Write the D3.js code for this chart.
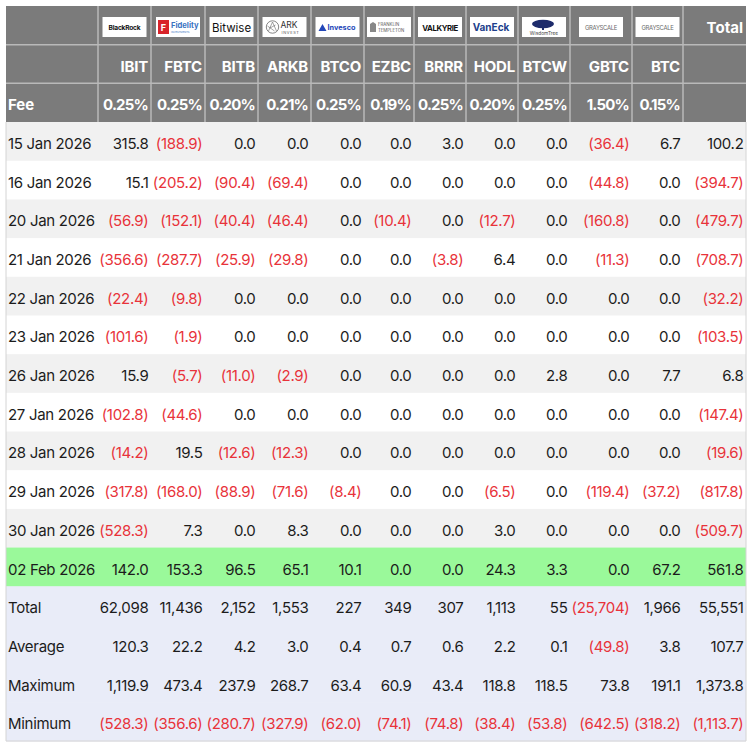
<!DOCTYPE html>
<html>
<head>
<meta charset="utf-8">
<script src="https://cdn.jsdelivr.net/npm/d3@7"></script>
<style>
  body { margin: 0; background: #fff; }
  svg text { font-family: Inter, "Noto Sans", sans-serif; }
</style>
</head>
<body>
<div id="flows"></div>
<script>
// ---- data ----
const tickers = ['IBIT', 'FBTC', 'BITB', 'ARKB', 'BTCO', 'EZBC', 'BRRR', 'HODL', 'BTCW', 'GBTC', 'BTC'];
const issuers = ['blackrock', 'fidelity', 'bitwise', 'ark', 'invesco', 'franklin', 'valkyrie', 'vaneck', 'wisdomtree', 'grayscale', 'grayscale'];
const fees = [0.25, 0.25, 0.20, 0.21, 0.25, 0.19, 0.25, 0.20, 0.25, 1.50, 0.15];

const dates = ['15 Jan 2026', '16 Jan 2026', '20 Jan 2026', '21 Jan 2026', '22 Jan 2026', '23 Jan 2026',
               '26 Jan 2026', '27 Jan 2026', '28 Jan 2026', '29 Jan 2026', '30 Jan 2026', '02 Feb 2026'];

// daily flows (US$m), last value of each row is the total
const flows = [
  [315.8, -188.9, 0.0, 0.0, 0.0, 0.0, 3.0, 0.0, 0.0, -36.4, 6.7, 100.2],
  [15.1, -205.2, -90.4, -69.4, 0.0, 0.0, 0.0, 0.0, 0.0, -44.8, 0.0, -394.7],
  [-56.9, -152.1, -40.4, -46.4, 0.0, -10.4, 0.0, -12.7, 0.0, -160.8, 0.0, -479.7],
  [-356.6, -287.7, -25.9, -29.8, 0.0, 0.0, -3.8, 6.4, 0.0, -11.3, 0.0, -708.7],
  [-22.4, -9.8, 0.0, 0.0, 0.0, 0.0, 0.0, 0.0, 0.0, 0.0, 0.0, -32.2],
  [-101.6, -1.9, 0.0, 0.0, 0.0, 0.0, 0.0, 0.0, 0.0, 0.0, 0.0, -103.5],
  [15.9, -5.7, -11.0, -2.9, 0.0, 0.0, 0.0, 0.0, 2.8, 0.0, 7.7, 6.8],
  [-102.8, -44.6, 0.0, 0.0, 0.0, 0.0, 0.0, 0.0, 0.0, 0.0, 0.0, -147.4],
  [-14.2, 19.5, -12.6, -12.3, 0.0, 0.0, 0.0, 0.0, 0.0, 0.0, 0.0, -19.6],
  [-317.8, -168.0, -88.9, -71.6, -8.4, 0.0, 0.0, -6.5, 0.0, -119.4, -37.2, -817.8],
  [-528.3, 7.3, 0.0, 8.3, 0.0, 0.0, 0.0, 3.0, 0.0, 0.0, 0.0, -509.7],
  [142.0, 153.3, 96.5, 65.1, 10.1, 0.0, 0.0, 24.3, 3.3, 0.0, 67.2, 561.8]
];

const statLabels = ['Total', 'Average', 'Maximum', 'Minimum'];
const statTotal = [62098, 11436, 2152, 1553, 227, 349, 307, 1113, 55, -25704, 1966, 55551];
const statAverage = [120.3, 22.2, 4.2, 3.0, 0.4, 0.7, 0.6, 2.2, 0.1, -49.8, 3.8, 107.7];
const statMaximum = [1119.9, 473.4, 237.9, 268.7, 63.4, 60.9, 43.4, 118.8, 118.5, 73.8, 191.1, 1373.8];
const statMinimum = [-528.3, -356.6, -280.7, -327.9, -62.0, -74.1, -74.8, -38.4, -53.8, -642.5, -318.2, -1113.7];

// ---- layout ----
const W = 750, H = 746;
const tblLeft = 6, tblTop = 6, tblBottom = 741;
const colWidths = [92, 53, 54, 53, 53, 53, 50, 52, 52, 52, 62, 51, 63];
const colKeys = ['label'].concat(tickers, ['Total']);
const colLefts = [tblLeft].concat(Array.from(d3.cumsum(colWidths), d => tblLeft + d));
const tblRight = colLefts[colLefts.length - 1];

const x = d3.scaleOrdinal(colKeys, colLefts);
const cw = d3.scaleOrdinal(colKeys, colWidths);
const y = d3.scaleBand().domain(d3.range(3 + dates.length + statLabels.length)).range([tblTop, tblBottom]);
const rh = y.bandwidth();
const textDy = 7.6;

const red = '#e8333a', ink = '#1c1c1c', headBg = '#7b7b7b', headLine = '#b9b9b9';

const fmt1 = d3.format(',.1f'), fmt0 = d3.format(',.0f');
const show = (v, f) => v < 0 ? `(${f(-v)})` : f(v);

const svg = d3.select('#flows').append('svg')
    .attr('width', W)
    .attr('height', H);

// ---- header ----
const head = svg.append('g');
head.append('rect')
    .attr('x', tblLeft).attr('y', tblTop)
    .attr('width', tblRight - tblLeft)
    .attr('height', 3 * rh)
    .attr('fill', headBg);

// header grid
head.selectAll('line.v').data(colLefts.slice(1, -1))
    .enter().append('line')
    .attr('x1', d => d).attr('x2', d => d)
    .attr('y1', tblTop).attr('y2', tblTop + 3 * rh)
    .attr('stroke', headLine).attr('stroke-width', 1.5);
head.selectAll('line.h').data([1, 2])
    .enter().append('line')
    .attr('x1', tblLeft).attr('x2', tblRight)
    .attr('y1', d => y(d)).attr('y2', d => y(d))
    .attr('stroke', headLine).attr('stroke-width', 1.5);

// tickers
head.selectAll('text.tk').data(tickers)
    .enter().append('text')
    .attr('x', d => x(d) + cw(d) - 3)
    .attr('y', y(1) + rh / 2 + textDy)
    .attr('text-anchor', 'end')
    .attr('fill', '#fff').attr('font-weight', 700).attr('font-size', 15)
    .attr('letter-spacing', -0.2)
    .text(d => d);

// fees
head.selectAll('text.fee').data(fees)
    .enter().append('text')
    .attr('x', (d, i) => x(tickers[i]) + cw(tickers[i]) - 3)
    .attr('y', y(2) + rh / 2 + textDy)
    .attr('text-anchor', 'end')
    .attr('fill', '#fff').attr('font-weight', 700).attr('font-size', 15)
    .attr('letter-spacing', -0.8)
    .text(d => d.toFixed(2) + '%');

head.append('text')
    .attr('x', tblLeft + 2).attr('y', y(2) + rh / 2 + textDy)
    .attr('fill', '#fff').attr('font-weight', 700).attr('font-size', 15)
    .text('Fee');

head.append('text')
    .attr('x', x('Total') + cw('Total') - 3).attr('y', y(0) + rh / 2 + textDy)
    .attr('text-anchor', 'end')
    .attr('fill', '#fff').attr('font-weight', 700).attr('font-size', 15)
    .text('Total');

// logos: small white tiles
const serif = '"Liberation Serif", "DejaVu Serif", serif';
const logoDraw = {
  blackrock: g => {
    g.append('text').attr('x', 22).attr('y', 12.5).attr('text-anchor', 'middle')
      .attr('font-family', 'Liberation Sans, Arial').attr('font-weight', 700).attr('font-size', 6.6)
      .attr('letter-spacing', -0.2).attr('fill', '#111').text('BlackRock');
  },
  fidelity: g => {
    g.append('rect').attr('x', 2).attr('y', 3).attr('width', 11).attr('height', 14).attr('fill', '#d8232a');
    g.append('text').attr('x', 7.5).attr('y', 13.5).attr('text-anchor', 'middle')
      .attr('font-weight', 700).attr('font-size', 9).attr('fill', '#fff').text('F');
    g.append('text').attr('x', 15).attr('y', 11).attr('font-weight', 700).attr('font-size', 7.6)
      .attr('fill', '#3a73c2').text('Fidelity');
    g.append('text').attr('x', 15).attr('y', 15.5).attr('font-size', 2.6)
      .attr('fill', '#3a73c2').text('INVESTMENTS');
  },
  bitwise: g => {
    g.append('text').attr('x', 22).attr('y', 14.5).attr('text-anchor', 'middle')
      .attr('font-family', serif).attr('font-size', 11.5).attr('fill', '#111').text('Bitwise');
  },
  ark: g => {
    g.append('circle').attr('cx', 10).attr('cy', 10).attr('r', 6.2)
      .attr('fill', 'none').attr('stroke', '#666').attr('stroke-width', 0.8);
    g.append('path').attr('d', 'M6,14 L10,5 L14,14 M7.5,11 L13,8 M5,9 L12,14')
      .attr('fill', 'none').attr('stroke', '#666').attr('stroke-width', 0.6);
    g.append('text').attr('x', 18).attr('y', 11).attr('font-size', 8.5).attr('fill', '#333').text('ARK');
    g.append('text').attr('x', 19).attr('y', 17).attr('font-size', 4).attr('letter-spacing', 0.6)
      .attr('fill', '#555').text('INVEST');
  },
  invesco: g => {
    g.append('path').attr('d', 'M3,14 L7,7 L11,14 Z M6,14 L8.5,10 L10,14').attr('fill', '#2347b8');
    g.append('text').attr('x', 12).attr('y', 13).attr('font-weight', 700).attr('font-size', 7.3)
      .attr('fill', '#2347b8').text('Invesco');
  },
  franklin: g => {
    g.append('path').attr('d', 'M3,15 L3,7 L6,5 L9,7 L9,15 Z').attr('fill', '#888');
    g.append('text').attr('x', 11).attr('y', 9).attr('font-family', serif).attr('font-size', 4.3)
      .attr('fill', '#555').text('FRANKLIN');
    g.append('text').attr('x', 11).attr('y', 14.5).attr('font-family', serif).attr('font-size', 4.3)
      .attr('fill', '#555').text('TEMPLETON');
  },
  valkyrie: g => {
    g.append('text').attr('x', 22).attr('y', 13.5).attr('text-anchor', 'middle')
      .attr('font-family', 'Liberation Sans, Arial').attr('font-weight', 700).attr('font-size', 7.8)
      .attr('letter-spacing', -0.4).attr('fill', '#111').text('VALKYRIE');
  },
  vaneck: g => {
    g.append('text').attr('x', 21).attr('y', 14).attr('text-anchor', 'middle')
      .attr('font-family', serif).attr('font-weight', 700).attr('font-size', 10)
      .attr('fill', '#1e3f8c').text('VanEck');
  },
  wisdomtree: g => {
    g.append('ellipse').attr('cx', 21).attr('cy', 7).attr('rx', 11).attr('ry', 4.2).attr('fill', '#1d2b6b');
    g.append('rect').attr('x', 20).attr('y', 9).attr('width', 2).attr('height', 4).attr('fill', '#1d2b6b');
    g.append('text').attr('x', 22).attr('y', 17.5).attr('text-anchor', 'middle')
      .attr('font-family', serif).attr('font-size', 4.8).attr('fill', '#444').text('WisdomTree');
  },
  grayscale: g => {
    g.append('text').attr('x', 22).attr('y', 12.5).attr('text-anchor', 'middle')
      .attr('font-size', 5.9).attr('letter-spacing', -0.3).attr('fill', '#6a6a6a').text('GRAYSCALE');
  }
};

const logos = head.selectAll('g.logo').data(tickers)
    .enter().append('g')
    .attr('transform', d => `translate(${x(d) + cw(d) / 2 - 22}, ${y(0) + 11})`);
logos.append('rect')
    .attr('width', 44).attr('height', 20)
    .attr('fill', '#fff');
logos.each(function(d, i) { logoDraw[issuers[i]](d3.select(this)); });

// ---- body ----
const rows = dates.map((d, i) => ({label: d, values: flows[i], kind: i === dates.length - 1 ? 'latest' : (i % 2 ? 'even' : 'odd'), fmt: fmt1}))
  .concat([statTotal, statAverage, statMaximum, statMinimum].map((v, i) => ({label: statLabels[i], values: v, kind: 'stat', fmt: i === 0 ? fmt0 : fmt1})));

const fills = {odd: '#f1f1f1', even: '#ffffff', latest: '#9af99a', stat: '#e9ecf8'};

const body = svg.append('g');
const row = body.selectAll('g.row').data(rows)
    .enter().append('g')
    .attr('transform', (d, i) => `translate(0, ${y(i + 3)})`);

row.append('rect')
    .attr('x', tblLeft).attr('width', tblRight - tblLeft)
    .attr('height', rh + 0.5)
    .attr('fill', d => fills[d.kind]);

row.append('text')
    .attr('x', tblLeft + 2).attr('y', rh / 2 + textDy)
    .attr('font-size', 15).attr('fill', ink)
    .attr('letter-spacing', -0.3)
    .text(d => d.label);

row.selectAll('text.v').data(d => d.values.map(v => ({v, fmt: d.fmt})))
    .enter().append('text')
    .attr('x', (d, i) => x(colKeys[i + 1]) + cw(colKeys[i + 1]) - 2.5)
    .attr('y', rh / 2 + textDy)
    .attr('text-anchor', 'end')
    .attr('font-size', 15)
    .attr('letter-spacing', -0.3)
    .attr('fill', d => d.v < 0 ? red : ink)
    .text(d => show(d.v, d.fmt));

// outer border of the body
svg.append('path')
    .attr('d', `M${tblLeft},${y(3)} V${tblBottom} H${tblRight} V${y(3)}`)
    .attr('fill', 'none').attr('stroke', '#d4d4d4').attr('stroke-width', 1);
</script>
</body>
</html>
